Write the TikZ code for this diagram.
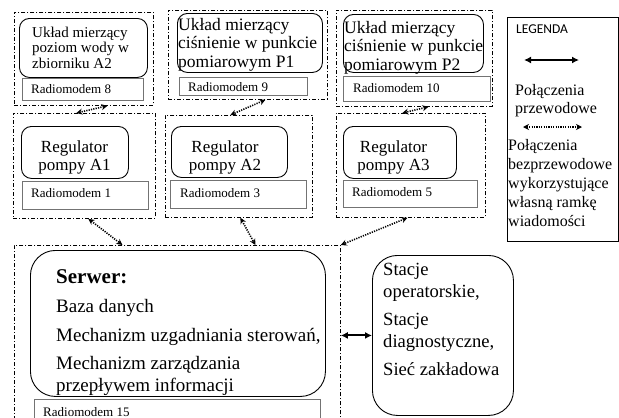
\documentclass[tikz,border=0pt]{standalone}
\usepackage{fontspec}
\setmainfont{Liberation Serif}
\newfontfamily\legendfont{Carlito}
\usetikzlibrary{arrows.meta}

\tikzset{
  grp/.style={draw, line width=0.8pt, dash pattern=on 4pt off 2pt on 1pt off 2pt, anchor=north west, inner sep=0pt},
  unit/.style={draw, line width=0.9pt, rounded corners=10pt, anchor=north west, inner sep=0pt},
  modem/.style={draw=black!55, line width=0.6pt, anchor=north west, inner sep=0pt},
  txt/.style={anchor=north west, inner sep=0pt, align=left},
  modemtxt/.style={anchor=west, inner sep=0pt, font=\fontsize{13}{15}\selectfont},
  regtxt/.style={inner sep=0pt, align=center, font=\fontsize{17}{18.5}\selectfont},
  wireless/.style={line width=1.6pt, dash pattern=on 1.2pt off 1.2pt, {Stealth[length=6pt,width=6pt]}-{Stealth[length=6pt,width=6pt]}},
  wired/.style={line width=2pt, {Latex[length=7pt,width=7pt]}-{Latex[length=7pt,width=7pt]}}
}

\begin{document}
\begin{tikzpicture}[x=1pt,y=-1pt]
\useasboundingbox (0,0) rectangle (619,418);
\clip (0,0) rectangle (619,418);

% top row: measuring units
\node[grp, minimum width=139pt, minimum height=93pt] (g1) at (14,12) {};
\node[unit, minimum width=128pt, minimum height=59pt] (u1) at (19,18) {};
\node[modem, minimum width=121pt, minimum height=22pt] (m1) at (22,78) {};
\node[txt, font=\fontsize{15}{15.5}\selectfont] (t1) at (32,26.7) {Układ mierzący\\poziom wody w\\zbiorniku A2};
\node[modemtxt] (r8) at (31,89) {Radiomodem 8};

\node[grp, minimum width=159pt, minimum height=89pt] (g2) at (168,10) {};
\node[unit, minimum width=145pt, minimum height=59pt] (u2) at (177,13) {};
\node[modem, minimum width=128pt, minimum height=18pt] (m2) at (179,77) {};
\node[txt, font=\fontsize{17.5}{18.5}\selectfont] (t2) at (178,18) {Układ mierzący\\ciśnienie w punkcie\\pomiarowym P1};
\node[modemtxt] (r9) at (188,87) {Radiomodem 9};

\node[grp, minimum width=156pt, minimum height=96pt] (g3) at (336,10) {};
\node[unit, minimum width=140pt, minimum height=58pt] (u3) at (343,14) {};
\node[modem, minimum width=147pt, minimum height=25pt] (m3) at (343,76) {};
\node[txt, font=\fontsize{17.5}{18.5}\selectfont] (t3) at (344,21) {Układ mierzący\\ciśnienie w punkcie\\pomiarowym P2};
\node[modemtxt] (r10) at (353,88) {Radiomodem 10};

% middle row: pump regulators
\node[grp, minimum width=142pt, minimum height=105pt] (gA1) at (13,113) {};
\node[unit, minimum width=107pt, minimum height=52pt] (uA1) at (21,126) {};
\node[modem, minimum width=126pt, minimum height=28pt] (mA1) at (22,181) {};
\node[regtxt] (tA1) at (74.5,157.5) {Regulator\\pompy A1};
\node[modemtxt] (r1) at (31,193) {Radiomodem 1};

\node[grp, minimum width=147pt, minimum height=102pt] (gA2) at (165,115) {};
\node[unit, minimum width=116pt, minimum height=51pt] (uA2) at (171,126) {};
\node[modem, minimum width=136pt, minimum height=28pt] (mA2) at (170,180) {};
\node[regtxt] (tA2) at (225,157.5) {Regulator\\pompy A2};
\node[modemtxt] (r3) at (180,193) {Radiomodem 3};

\node[grp, minimum width=149pt, minimum height=104pt] (gA3) at (336,113) {};
\node[unit, minimum width=113pt, minimum height=52pt] (uA3) at (343,126) {};
\node[modem, minimum width=134pt, minimum height=27pt] (mA3) at (343,180) {};
\node[regtxt] (tA3) at (393.5,157.5) {Regulator\\pompy A3};
\node[modemtxt] (r5) at (352,192) {Radiomodem 5};

% bottom: server and stations
\node[grp, minimum width=326pt, minimum height=185pt] (gS) at (14,245) {};
\node[unit, rounded corners=25pt, minimum width=295pt, minimum height=146pt] (uS) at (30,250) {};
\node[modem, minimum width=286pt, minimum height=30pt] (mS) at (34,399) {};
\node[txt, font=\fontsize{19}{22}\selectfont] (tS) at (56,269)
  {{\bfseries\fontsize{21}{22}\selectfont Serwer:}\\[7pt]Baza danych\\[7pt]Mechanizm uzgadniania sterowań,\\[6pt]Mechanizm zarządzania\\przepływem informacji};
\node[modemtxt] (r15) at (43,412) {Radiomodem 15};

\node[unit, rounded corners=25pt, minimum width=141pt, minimum height=160pt] (uR) at (372,255) {};
\node[txt, font=\fontsize{18.6}{22}\selectfont] (tR) at (383,263)
  {Stacje\\operatorskie,\\[6pt]Stacje\\diagnostyczne,\\[6pt]Sieć zakładowa};

% connections
\draw[wireless] ([xshift=23.5pt]g1.south) -- ([xshift=-8pt]gA1.north);
\draw[wireless] ([xshift=17.5pt]g2.south) -- ([xshift=-8.5pt]gA2.north);
\draw[wireless] ([xshift=14pt]g3.south) -- ([xshift=-8.5pt]gA3.north);
\draw[wireless] ([xshift=4pt]gA1.south) -- ([xshift=-55pt]gS.north);
\draw[wireless] ([xshift=1.5pt]gA2.south) -- ([xshift=78pt]gS.north);
\draw[wireless] ([xshift=-3.5pt]gA3.south) -- (gS.north east);
\draw[wired] (uR.west -| gS.east) -- (uR.west);

% legend
\node[draw, line width=0.6pt, anchor=north west, inner sep=0pt, minimum width=111pt, minimum height=224pt] (lg) at (507,17) {};
\node[anchor=west, inner sep=0pt, font=\legendfont\fontsize{13.5}{15}\selectfont] (lgt) at (516,29) {LEGENDA};
\coordinate (k1) at (524,60);
\coordinate (k2) at (579,60);
\draw[wired] (k1) -- (k2);
\node[txt, font=\fontsize{16}{18}\selectfont] (lt1) at (515,84.5) {Połączenia\\przewodowe};
\coordinate (k3) at (523,127);
\coordinate (k4) at (582,127);
\draw[wireless] (k3) -- (k4);
\node[txt, font=\fontsize{16}{19}\selectfont] (lt2) at (508,139.5) {Połączenia\\bezprzewodowe\\wykorzystujące\\własną ramkę\\wiadomości};
\end{tikzpicture}
\end{document}
